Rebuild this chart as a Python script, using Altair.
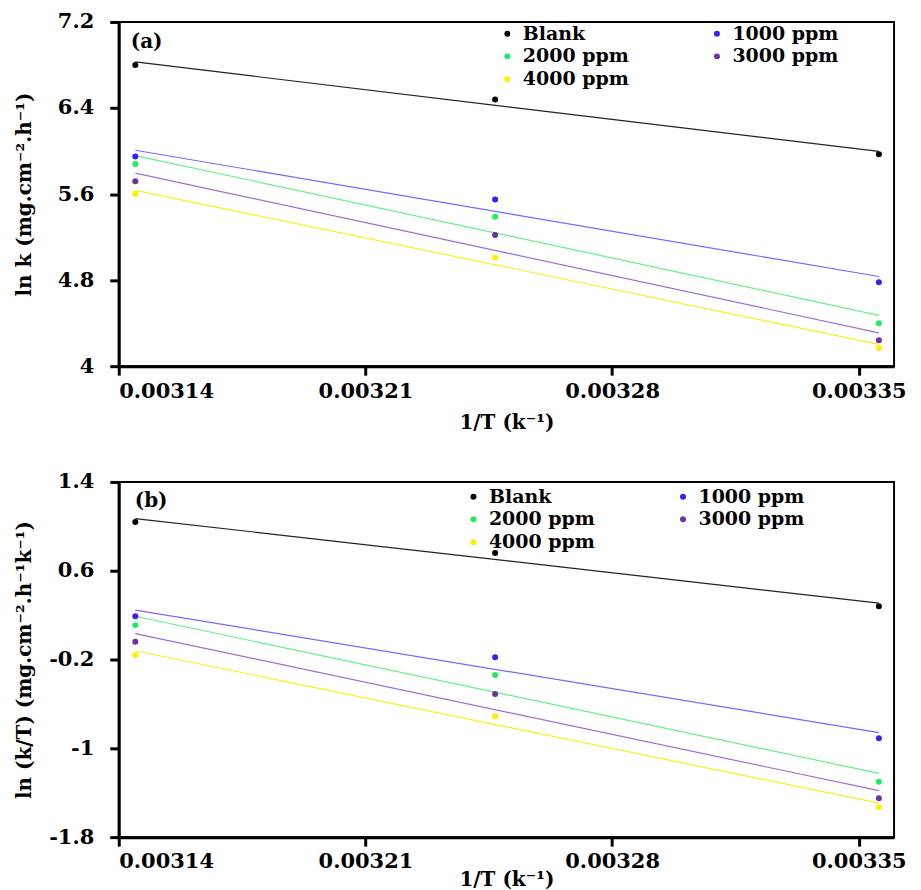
import altair as alt
import pandas as pd

# ---- data ----
inv_T = [0.0031447, 0.0032468, 0.0033557]
series = ["Blank", "1000 ppm", "2000 ppm", "3000 ppm", "4000 ppm"]
fits = [s + " (fit)" for s in series]
# legend fills column by column: this order reads row-wise as in the reference
legend_order = ["Blank", "2000 ppm", "4000 ppm", "1000 ppm", "3000 ppm"]

lnk_blank = [6.80, 6.48, 5.97]
lnk_1000 = [5.95, 5.55, 4.78]
lnk_2000 = [5.88, 5.39, 4.40]
lnk_3000 = [5.72, 5.22, 4.24]
lnk_4000 = [5.60, 5.01, 4.17]

lnkT_blank = [1.04, 0.76, 0.28]
lnkT_1000 = [0.19, -0.18, -0.91]
lnkT_2000 = [0.11, -0.34, -1.30]
lnkT_3000 = [-0.04, -0.51, -1.45]
lnkT_4000 = [-0.16, -0.71, -1.53]

x_ticks = [0.00314, 0.00321, 0.00328, 0.00335]
ya_ticks = [4, 4.8, 5.6, 6.4, 7.2]
yb_ticks = [-1.8, -1, -0.2, 0.6, 1.4]

point_color = {"Blank": "#000000", "1000 ppm": "#3b1ff2", "2000 ppm": "#22ec5c",
               "3000 ppm": "#7030a0", "4000 ppm": "#fff000"}
line_colors = ["#222222", "#7a66ff", "#66ee8c", "#9a6fd0", "#f5f020"]

FONT = "DejaVu Serif"


def make_df(cols):
    rows = []
    for name, fname, vals in zip(series, fits, cols):
        for xv, yv in zip(inv_T, vals):
            rows.append({"x": xv, "y": yv, "series": name, "fit": fname})
    return pd.DataFrame(rows)


df_a = make_df([lnk_blank, lnk_1000, lnk_2000, lnk_3000, lnk_4000])
df_b = make_df([lnkT_blank, lnkT_1000, lnkT_2000, lnkT_3000, lnkT_4000])


def panel(df, ydomain, yticks, ytitle, tag, h, legx, legy, tagx, tagy, xlabpad, xtitlepad):
    xenc = alt.X(
        "x:Q",
        scale=alt.Scale(domain=[0.00314, 0.00336], nice=False, zero=False),
        axis=alt.Axis(values=x_ticks, format=".5f", title="1/T (k\u207b\u00b9)",
                      titlePadding=xtitlepad, labelPadding=xlabpad),
    )
    yenc = alt.Y(
        "y:Q",
        scale=alt.Scale(domain=ydomain, nice=False, zero=False),
        axis=alt.Axis(values=yticks, labelExpr="'' + datum.value", title=ytitle,
                      titleX=-84, labelPadding=16),
    )
    base = alt.Chart(df)
    lines = base.transform_regression("x", "y", groupby=["fit"]).mark_line(
        strokeWidth=1.2
    ).encode(
        x=xenc, y=yenc,
        stroke=alt.Stroke("fit:N", scale=alt.Scale(domain=fits, range=line_colors), legend=None),
    )
    points = base.mark_circle(size=36, opacity=1).encode(
        x=xenc, y=yenc,
        color=alt.Color(
            "series:N",
            scale=alt.Scale(domain=legend_order, range=[point_color[s] for s in legend_order]),
            legend=alt.Legend(
                title=None, orient="none", legendX=legx, legendY=legy, columns=2,
                columnPadding=78, rowPadding=3, symbolType="circle", symbolSize=36,
                labelFont=FONT, labelFontWeight="bold",
                labelFontSize=19, labelOffset=6, labelColor="black",
            ),
        ),
    )
    label = alt.Chart(pd.DataFrame({"t": [tag]})).mark_text(
        font=FONT, fontWeight="bold", fontSize=20, align="left", baseline="middle", color="black"
    ).encode(text="t:N", x=alt.value(tagx), y=alt.value(tagy))
    return alt.layer(lines, points, label).properties(width=777, height=h)


pa = panel(df_a, [4, 7.2], ya_ticks, "ln k (mg.cm\u207b\u00b2.h\u207b\u00b9)", "(a)", 345,
           380, 2, 12, 20, 5, 11)
pb = panel(df_b, [-1.8, 1.4], yb_ticks, "ln (k/T) (mg.cm\u207b\u00b2.h\u207b\u00b9k\u207b\u00b9)", "(b)", 356,
           346, 5, 16, 19, 4, -2)

chart = alt.vconcat(pa, pb, spacing=37).resolve_scale(
    x="independent", y="independent", color="independent", stroke="independent"
).resolve_legend(color="independent").properties(
    padding={"left": 6, "top": 1, "right": 5, "bottom": 0}
).configure_axis(
    labelFont=FONT, labelFontWeight="bold", labelFontSize=21, labelColor="black",
    titleFont=FONT, titleFontWeight="bold", titleFontSize=20, titleColor="black",
    domainColor="black", domainWidth=3, tickColor="black", tickWidth=3, tickSize=9,
    grid=False,
).configure_view(stroke="black", strokeWidth=2)

chart.save("out.html", embed_options={"renderer": "svg", "actions": False})
